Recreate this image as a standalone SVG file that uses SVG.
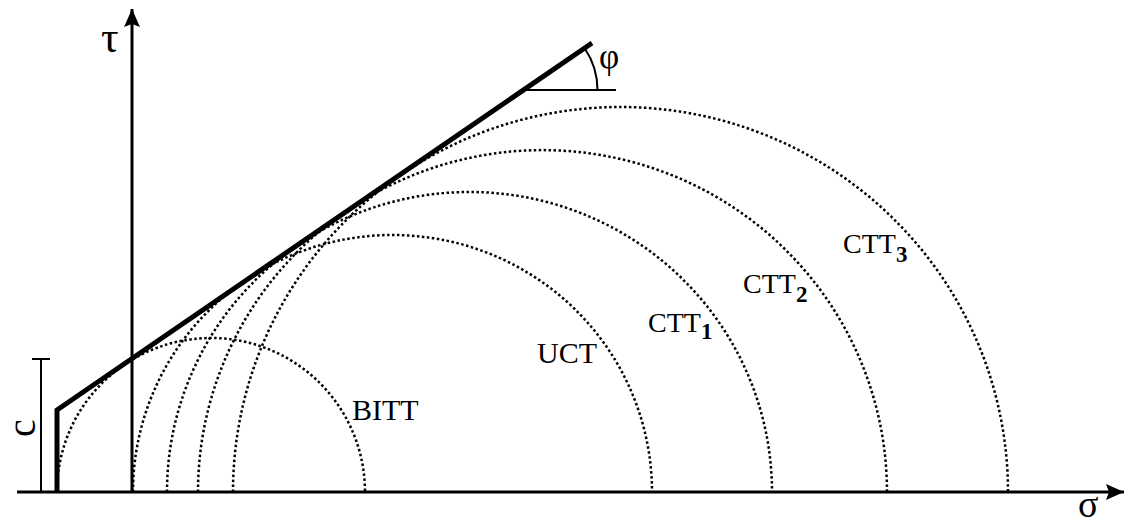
<svg xmlns="http://www.w3.org/2000/svg" width="1126" height="524" viewBox="0 0 1126 524">
<style>
.axis{stroke:#000;stroke-width:3;fill:none}
.circ{stroke:#000;stroke-width:2.5;fill:none;stroke-dasharray:2.5 2.5}
.thin{stroke:#000;stroke-width:2;fill:none}
.env{stroke:#000;stroke-width:5;fill:none;stroke-linejoin:miter}
.lbl{font-family:"Liberation Serif","Times New Roman",serif;fill:#000}
</style>
<defs>
<marker id="arr" markerWidth="20" markerHeight="16" refX="18" refY="8" orient="auto" markerUnits="userSpaceOnUse">
<path d="M0,0 L18,8 L0,16 L3,8 Z" fill="#000"/>
</marker>
</defs>
<rect width="1126" height="524" fill="#fff"/>
<g id="axes">
<line class="axis" x1="17" y1="492" x2="1124" y2="492" marker-end="url(#arr)"/>
<line class="axis" x1="132" y1="492" x2="132" y2="9" marker-end="url(#arr)"/>
<text class="lbl" x="101" y="52" font-size="44">τ</text>
<text class="lbl" x="1078" y="517" font-size="38">σ</text>
</g>
<g id="circles">
<path id="bitt" class="circ" d="M57,492 A154,154 0 0 1 365,492"/>
<path id="uct" class="circ" d="M133,492 A259.5,257 0 0 1 652,492"/>
<path id="ctt1" class="circ" d="M167,492 A302.5,300 0 0 1 772,492"/>
<path id="ctt2" class="circ" d="M198,492 A344.5,342 0 0 1 887,492"/>
<path id="ctt3" class="circ" d="M233,492 A387.5,385 0 0 1 1008,492"/>
</g>
<g id="envelope">
<polyline class="env" points="57,493 57,410 592,43"/>
<line class="thin" x1="523" y1="90" x2="616" y2="90"/>
<path class="thin" d="M597.5,90 A74,74 0 0 0 584.6,48.2"/>
<text class="lbl" x="599" y="68" font-size="35">φ</text>
</g>
<g id="cohesion">
<line class="thin" x1="41" y1="359" x2="41" y2="492"/>
<line class="thin" x1="32" y1="359" x2="50" y2="359"/>
<text class="lbl" font-size="40" text-anchor="middle" transform="translate(35,428) rotate(-90)">c</text>
</g>
<g id="labels">
<text class="lbl" x="352" y="420" font-size="30">BITT</text>
<text class="lbl" x="537" y="363" font-size="30">UCT</text>
<text class="lbl" x="648" y="332" font-size="28">CTT<tspan font-size="23" font-weight="bold" dy="7">1</tspan></text>
<text class="lbl" x="743" y="293" font-size="28">CTT<tspan font-size="23" font-weight="bold" dy="9">2</tspan></text>
<text class="lbl" x="843" y="253" font-size="28">CTT<tspan font-size="23" font-weight="bold" dy="9">3</tspan></text>
</g>
</svg>
